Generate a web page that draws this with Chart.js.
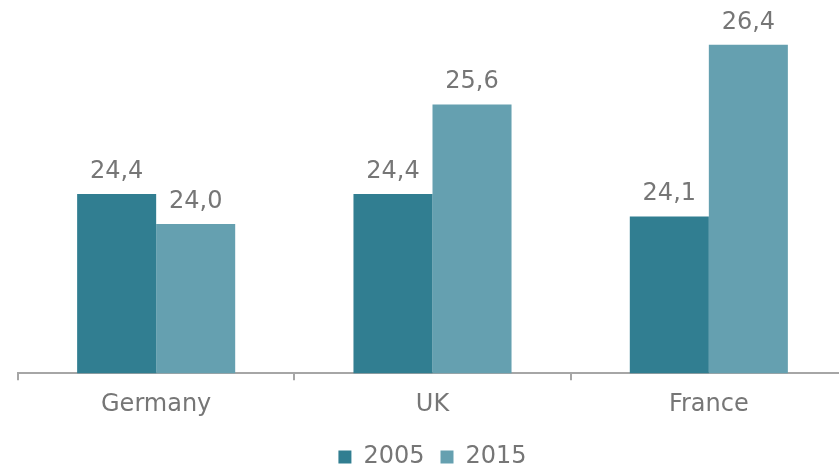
<!DOCTYPE html>
<html>
<head>
<meta charset="utf-8">
<script src="https://cdn.jsdelivr.net/npm/chart.js@4/dist/chart.umd.min.js"></script>
<style>
  html, body { margin: 0; padding: 0; background: #fff; overflow: hidden; }
  .wrap { width: 848px; height: 468px; }
</style>
</head>
<body>
<div class="wrap"><canvas id="chart"></canvas></div>
<script>
const categories = ['Germany', 'UK', 'France'];
const values2005 = [24.4, 24.4, 24.1];
const values2015 = [24.0, 25.6, 26.4];
const seriesNames = ['2005', '2015'];

const textColor = '#767676';
const fontFace = "'DejaVu Sans', Verdana, sans-serif";

// labels drawn above each bar, with a decimal comma
const barLabels = {
  id: 'barLabels',
  afterDatasetsDraw(chart) {
    const ctx = chart.ctx;
    ctx.save();
    ctx.font = '24px ' + fontFace;
    ctx.fillStyle = textColor;
    ctx.textAlign = 'center';
    ctx.textBaseline = 'alphabetic';
    chart.data.datasets.forEach((ds, i) => {
      chart.getDatasetMeta(i).data.forEach((bar, j) => {
        const txt = ds.data[j].toFixed(1).replace('.', ',');
        ctx.fillText(txt, bar.x, bar.y - 16);
      });
    });
    ctx.restore();
  }
};

new Chart(document.getElementById('chart'), {
  type: 'bar',
  data: {
    labels: categories,
    datasets: [
      { label: seriesNames[0], data: values2005, backgroundColor: '#317E91' },
      { label: seriesNames[1], data: values2015, backgroundColor: '#65A0B0' }
    ]
  },
  options: {
    responsive: true,
    maintainAspectRatio: false,
    animation: false,
    layout: { padding: { left: 18, right: 1, top: 0, bottom: -11 } },
    datasets: { bar: { categoryPercentage: 0.572, barPercentage: 1 } },
    scales: {
      y: { display: false, min: 22, max: 27 },
      x: {
        grid: {
          display: true,
          offset: true,
          drawOnChartArea: false,
          drawTicks: true,
          tickLength: 7,
          color: '#A6A6A6',
          lineWidth: 2
        },
        border: { display: true, color: '#A6A6A6', width: 2 },
        ticks: {
          color: textColor,
          font: { family: fontFace, size: 24 },
          padding: 10
        }
      }
    },
    plugins: {
      legend: {
        position: 'bottom',
        labels: {
          color: textColor,
          font: { family: fontFace, size: 24 },
          boxWidth: 13,
          boxHeight: 13,
          padding: 16
        }
      },
      tooltip: { enabled: false }
    }
  },
  plugins: [barLabels]
});
</script>
</body>
</html>
